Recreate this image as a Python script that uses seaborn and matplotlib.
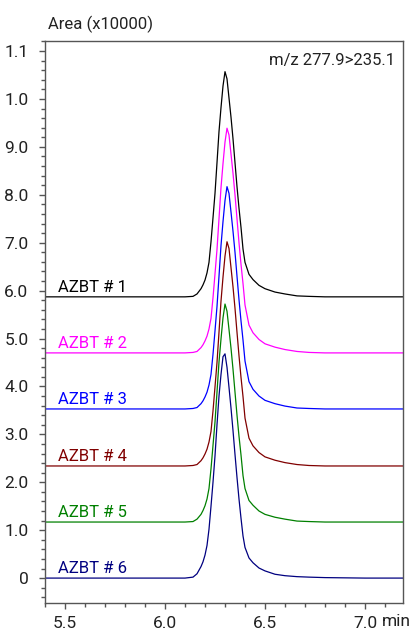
import numpy as np
import pandas as pd
import matplotlib
matplotlib.use("Agg")
import matplotlib.pyplot as plt
from matplotlib.ticker import MultipleLocator
import seaborn as sns

# ---- data (time in min, signal in Area x10000 units, as plotted) ----
time_min = [5.40, 6.10, 6.14, 6.16, 6.18, 6.19, 6.20, 6.21, 6.22, 6.23, 6.24, 6.25, 6.26,
            6.27, 6.28, 6.29, 6.30, 6.31, 6.32, 6.33, 6.34, 6.35, 6.36, 6.37, 6.38, 6.39,
            6.40, 6.42, 6.44, 6.47, 6.50, 6.55, 6.60, 6.66, 6.72, 6.80, 7.00, 7.19]

azbt1 = [5.87, 5.87, 5.88, 5.93, 6.04, 6.12, 6.22, 6.37, 6.59, 7.02, 7.52, 8.03, 8.67,
         9.32, 9.82, 10.27, 10.57, 10.42, 10.02, 9.62, 9.17, 8.67, 8.17, 7.72, 7.32, 6.87,
         6.59, 6.34, 6.23, 6.11, 6.04, 5.97, 5.93, 5.89, 5.88, 5.87, 5.87, 5.87]
azbt2 = [4.70, 4.70, 4.71, 4.73, 4.81, 4.87, 4.95, 5.05, 5.20, 5.42, 5.85, 6.35, 6.86,
         7.50, 8.15, 8.65, 9.10, 9.39, 9.25, 8.85, 8.45, 8.00, 7.50, 7.00, 6.55, 6.15,
         5.70, 5.28, 5.12, 4.98, 4.89, 4.82, 4.77, 4.73, 4.71, 4.70, 4.70, 4.70]
azbt3 = [3.53, 3.53, 3.54, 3.56, 3.64, 3.70, 3.78, 3.88, 4.03, 4.25, 4.67, 5.16, 5.67,
         6.30, 6.94, 7.44, 7.88, 8.17, 8.03, 7.64, 7.24, 6.80, 6.30, 5.81, 5.37, 4.97,
         4.53, 4.10, 3.94, 3.80, 3.71, 3.64, 3.59, 3.55, 3.54, 3.53, 3.53, 3.53]
azbt4 = [2.34, 2.34, 2.35, 2.37, 2.45, 2.51, 2.59, 2.69, 2.84, 3.06, 3.49, 3.99, 4.50,
         5.13, 5.78, 6.28, 6.72, 7.02, 6.88, 6.48, 6.08, 5.63, 5.13, 4.64, 4.19, 3.79,
         3.34, 2.92, 2.76, 2.62, 2.53, 2.46, 2.41, 2.37, 2.35, 2.34, 2.34, 2.34]
azbt5 = [1.17, 1.17, 1.18, 1.23, 1.33, 1.41, 1.51, 1.65, 1.87, 2.28, 2.77, 3.26, 3.88,
         4.51, 4.99, 5.43, 5.72, 5.57, 5.19, 4.80, 4.36, 3.88, 3.40, 2.96, 2.57, 2.14,
         1.87, 1.62, 1.52, 1.40, 1.33, 1.27, 1.23, 1.19, 1.18, 1.17, 1.17, 1.17]
azbt6 = [0.00, 0.00, 0.02, 0.09, 0.24, 0.34, 0.48, 0.68, 1.02, 1.50, 2.00, 2.55, 3.20,
         3.80, 4.25, 4.62, 4.68, 4.40, 3.98, 3.55, 3.08, 2.58, 2.10, 1.65, 1.25, 0.88,
         0.64, 0.42, 0.32, 0.21, 0.15, 0.08, 0.05, 0.03, 0.02, 0.01, 0.00, 0.00]

sample_names = ["AZBT # 1", "AZBT # 2", "AZBT # 3", "AZBT # 4", "AZBT # 5", "AZBT # 6"]
sample_colors = ["#000000", "#ff00ff", "#0000ff", "#800000", "#008000", "#000080"]

ytick_values = [0, 1, 2, 3, 4, 5, 6, 7, 8, 9, 10, 11]
ytick_labels = ["0", "1.0", "2.0", "3.0", "4.0", "5.0", "6.0", "7.0", "8.0", "9.0", "1.0", "1.1"]
xtick_values = [5.5, 6.0, 6.5, 7.0]
xtick_labels = ["5.5", "6.0", "6.5", "7.0"]

y_title = "Area (x10000)"
x_unit = "min"
transition = "m/z 277.9>235.1"

# ---- build long-form table ----
series = [azbt1, azbt2, azbt3, azbt4, azbt5, azbt6]
df = pd.concat(
    [pd.DataFrame({"time": time_min, "area": vals, "sample": name})
     for name, vals in zip(sample_names, series)],
    ignore_index=True,
)

sns.set_theme(style="ticks")
plt.rcParams["font.family"] = ["Roboto", "DejaVu Sans"]

W, H = 416, 630
fig = plt.figure(figsize=(W / 100, H / 100), dpi=100)
ax = fig.add_axes([45 / W, 27 / H, 358 / W, 562 / H])

sns.lineplot(data=df, x="time", y="area", hue="sample",
             palette=dict(zip(sample_names, sample_colors)),
             estimator=None, sort=False, linewidth=0.9, legend=False, ax=ax)

for name, col, vals in zip(sample_names, sample_colors, series):
    ax.text(5.465, vals[0] + 0.1, name, color=col, fontsize=12, ha="left", va="baseline")

ax.set_xlim(5.4, 7.19)
ax.set_ylim(-0.52, 11.21)
ax.set_xticks(xtick_values, xtick_labels)
ax.set_yticks(ytick_values, ytick_labels)
ax.xaxis.set_minor_locator(MultipleLocator(0.1))
ax.yaxis.set_minor_locator(MultipleLocator(0.2))
ax.set_xlabel("")
ax.set_ylabel("")

spine_col = "#555555"
for s in ax.spines.values():
    s.set_visible(True)
    s.set_color(spine_col)
    s.set_linewidth(1.0)

ax.tick_params(axis="both", which="major", length=4, width=1, color=spine_col,
               labelsize=12.5, labelcolor="#222222", direction="out")
ax.tick_params(axis="both", which="minor", length=3, width=1, color=spine_col, direction="out")
ax.tick_params(axis="y", which="major", pad=8)
ax.tick_params(axis="x", which="major", pad=5)
ax.tick_params(top=False, right=False, which="both")

fig.text(48 / W, 1 - 24 / H, y_title, fontsize=12, color="#222222", ha="left", va="center")
fig.text(382 / W, 1 - 621.5 / H, x_unit, fontsize=12.5, color="#222222", ha="left", va="center")
ax.text(0.978, 0.966, transition, transform=ax.transAxes, fontsize=12, color="#222222",
        ha="right", va="center")

fig.savefig("out.png", dpi=100)
